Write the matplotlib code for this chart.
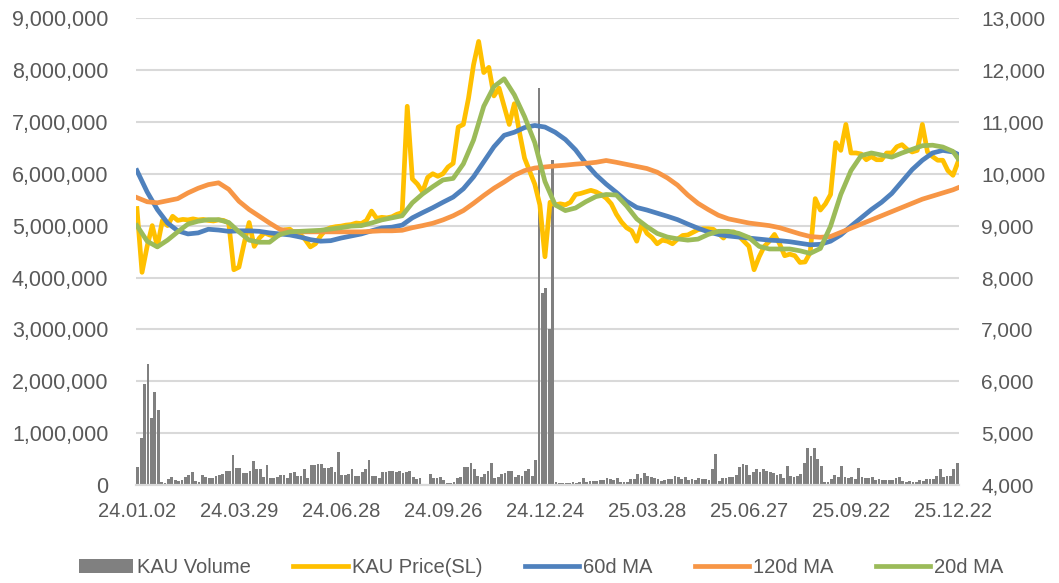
import matplotlib
matplotlib.use("Agg")
import matplotlib.pyplot as plt
from matplotlib.ticker import FuncFormatter, MultipleLocator

plt.rcParams['font.family'] = ['Liberation Sans', 'DejaVu Sans']

# trading-day axis: day 0 = 24.01.02, one label every 60 trading days
n_days = 484
date_labels = ['24.01.02', '24.03.29', '24.06.28', '24.09.26', '24.12.24',
               '25.03.28', '25.06.27', '25.09.22', '25.12.22']
label_days = [0, 60, 120, 180, 240, 300, 360, 420, 480]

# KAU volume, read in 2-day buckets (thousands of shares)
volume_k = [
    350, 900, 1950, 2340, 1300, 1800, 1450, 50, 30, 120,
    160, 90, 80, 100, 160, 190, 250, 80, 60, 190,
    150, 130, 140, 180, 200, 220, 280, 280, 570, 330,
    320, 230, 240, 280, 460, 310, 300, 160, 380, 140,
    130, 150, 200, 190, 140, 240, 260, 170, 180, 300,
    140, 380, 380, 400, 410, 330, 330, 350, 250, 630,
    200, 200, 210, 300, 170, 180, 250, 300, 480, 180,
    170, 140, 260, 250, 270, 280, 250, 270, 230, 250,
    280, 150, 110, 140, 20, 20, 220, 140, 130, 160,
    90, 40, 30, 60, 140, 160, 340, 350, 430, 300,
    180, 160, 220, 270, 420, 140, 150, 210, 240, 270,
    280, 160, 200, 170, 280, 300, 170, 480, 7650, 3700,
    3800, 3000, 6260, 60, 40, 40, 30, 40, 50, 40,
    60, 130, 60, 70, 80, 80, 90, 90, 130, 110,
    90, 130, 50, 50, 60, 110, 120, 220, 140, 240,
    170, 160, 130, 110, 80, 90, 110, 120, 180, 150,
    110, 150, 100, 110, 100, 130, 120, 110, 90, 300,
    600, 70, 130, 140, 150, 160, 190, 340, 400, 380,
    200, 260, 300, 250, 300, 270, 260, 230, 200, 210,
    140, 370, 170, 150, 170, 220, 430, 720, 560, 720,
    500, 370, 60, 50, 110, 200, 160, 370, 150, 140,
    150, 110, 330, 160, 130, 140, 150, 100, 110, 100,
    90, 100, 100, 140, 150, 70, 60, 70, 50, 60,
    100, 80, 110, 110, 110, 180, 300, 160, 170, 180,
    300, 430,
]
volume_days = [2 * i + 0.5 for i in range(len(volume_k))]

# KAU price, read every 3 trading days
price = [
    9330, 8100, 8600, 9000, 8600, 9100, 9000, 9180, 9100, 9120,
    9110, 9130, 9110, 9120, 9100, 9090, 9110, 9100, 9050, 8150,
    8200, 8650, 9060, 8600, 8760, 8860, 8820, 8800, 8820, 8920,
    8930, 8850, 8830, 8730, 8590, 8650, 8800, 8920, 8960, 8980,
    8990, 9010, 9020, 9050, 9040, 9100, 9280, 9140, 9160, 9150,
    9170, 9220, 9250, 11300, 9900, 9800, 9650, 9930, 10000, 9950,
    10000, 10130, 10200, 10900, 10950, 11450, 12100, 12550, 11950, 12050,
    11500, 11650, 11300, 10950, 11350, 10800, 10300, 10050, 9800, 9400,
    8400, 9450, 9400, 9420, 9400, 9450, 9600, 9620, 9650, 9680,
    9650, 9600, 9530, 9420, 9220, 9070, 8960, 8900, 8700, 9030,
    8850, 8770, 8650, 8720, 8700, 8650, 8740, 8810, 8820, 8870,
    8920, 8940, 8940, 8930, 8850, 8760, 8870, 8880, 8800, 8700,
    8600, 8150, 8400, 8600, 8700, 8830, 8650, 8420, 8450, 8420,
    8290, 8300, 8480, 9520, 9300, 9420, 9600, 10600, 10450, 10950,
    10400, 10400, 10380, 10270, 10330, 10270, 10270, 10400, 10400, 10520,
    10560, 10470, 10420, 10450, 10950, 10420, 10330, 10260, 10260, 10060,
    9970, 10230,
]
price_days = [3 * i for i in range(len(price))]

# moving averages, read every 6 trading days (last point = final day)
ma60 = [
    10060, 9650, 9310, 9050, 8900, 8840, 8860, 8930, 8915, 8890,
    8900, 8900, 8890, 8860, 8840, 8820, 8780, 8730, 8700, 8710,
    8760, 8800, 8840, 8900, 8955, 8970, 9010, 9150, 9250, 9345,
    9450, 9550, 9710, 9940, 10230, 10520, 10740, 10800, 10890, 10930,
    10900, 10800, 10660, 10460, 10200, 9980, 9800, 9640, 9470, 9350,
    9300, 9240, 9180, 9115, 9030, 8950, 8880, 8830, 8800, 8780,
    8760, 8740, 8720, 8710, 8690, 8660, 8630, 8640, 8700, 8820,
    8990, 9150, 9310, 9450, 9620, 9850, 10080, 10260, 10400, 10450,
    10420, 10375,
]
ma120 = [
    9540, 9460, 9440, 9480, 9520, 9630, 9720, 9790, 9825, 9700,
    9470, 9310, 9180, 9050, 8930, 8890, 8880, 8880, 8880, 8880,
    8880, 8880, 8880, 8890, 8900, 8900, 8910, 8960, 9000, 9045,
    9110, 9190, 9290, 9430, 9580, 9720, 9840, 9970, 10060, 10110,
    10130, 10150, 10165, 10185, 10200, 10220, 10255, 10220, 10180, 10140,
    10100, 10030, 9920, 9780, 9590, 9430, 9310, 9200, 9130, 9090,
    9050, 9025, 9000, 8960, 8900, 8840, 8790, 8775, 8790, 8870,
    8950, 9030, 9110, 9190, 9270, 9350, 9430, 9510, 9570, 9630,
    9690, 9730,
]
ma20 = [
    9000, 8700, 8590, 8720, 8880, 9030, 9085, 9115, 9115, 9060,
    8880, 8720, 8680, 8680, 8830, 8880, 8890, 8900, 8910, 8935,
    8960, 8990, 9000, 9050, 9110, 9150, 9190, 9440, 9610, 9750,
    9880, 9910, 10190, 10650, 11300, 11680, 11830, 11520, 11100, 10600,
    9850, 9400, 9290, 9340, 9460, 9560, 9600, 9590, 9380, 9130,
    8980, 8850, 8780, 8745, 8720, 8740, 8830, 8890, 8890, 8850,
    8770, 8600, 8550, 8550, 8550, 8515, 8465, 8560, 8990, 9600,
    10060, 10350, 10400, 10360, 10320, 10400, 10470, 10540, 10550, 10515,
    10430, 10290,
]
ma_days = [6 * i for i in range(81)] + [483]

fig = plt.figure(figsize=(10.59, 5.83), dpi=100)
ax = fig.add_axes([0.1285, 0.168, 0.777, 0.801])
ax2 = ax.twinx()

grey_txt = '#595959'
grid_col = '#d9d9d9'
fs = 14.5
lw = 3.4

vols = [v * 1000 for v in volume_k]
ax.bar(volume_days, vols, width=1.6, color='#808080', linewidth=0,
       label='KAU Volume', zorder=2)
ax.set_ylim(0, 9000000)
ax.yaxis.set_major_locator(MultipleLocator(1000000))
ax.yaxis.set_major_formatter(FuncFormatter(lambda v, p: f'{int(v):,}'))
ax.grid(axis='y', color=grid_col, linewidth=1.5, zorder=0)
ax.set_axisbelow(True)

ax2.plot(price_days, price, color='#FFC000', lw=lw, label='KAU Price(SL)',
         solid_joinstyle='round')
ax2.plot(ma_days, ma60, color='#4F81BD', lw=lw, label='60d MA')
ax2.plot(ma_days, ma120, color='#F79646', lw=lw, label='120d MA')
ax2.plot(ma_days, ma20, color='#9BBB59', lw=lw, label='20d MA')
ax2.set_ylim(4000, 13000)
ax2.yaxis.set_major_locator(MultipleLocator(1000))
ax2.yaxis.set_major_formatter(FuncFormatter(lambda v, p: f'{int(v):,}'))

ax.set_xlim(-0.5, n_days - 0.5)
ax.set_xticks(label_days)
ax.set_xticklabels(date_labels)

for a in (ax, ax2):
    for s in ('top', 'left', 'right'):
        a.spines[s].set_visible(False)
    a.spines['bottom'].set_color(grid_col)
    a.spines['bottom'].set_linewidth(1.5)
    a.tick_params(length=0, labelsize=fs, colors=grey_txt)
ax.tick_params(axis='y', pad=20, labelsize=15.5)
ax2.tick_params(axis='y', pad=16, labelsize=15)
ax.tick_params(axis='x', pad=12)

h1, l1 = ax.get_legend_handles_labels()
h2, l2 = ax2.get_legend_handles_labels()
fig.legend(h1 + h2, l1 + l2, loc='center', bbox_to_anchor=(0.511, 0.027),
           ncol=5, frameon=False, fontsize=fs, handlelength=2.7,
           handletextpad=0.2, columnspacing=2.1, labelcolor=grey_txt)

fig.savefig('out.png', dpi=100)
